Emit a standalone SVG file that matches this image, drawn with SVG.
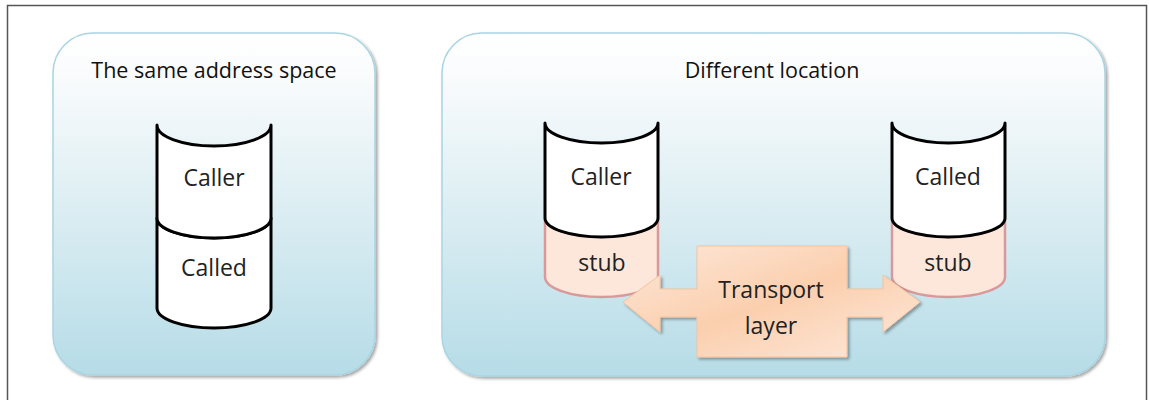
<svg xmlns="http://www.w3.org/2000/svg" width="1149" height="400" viewBox="0 0 1149 400">
  <defs>
    <linearGradient id="panelFill" x1="0" y1="0" x2="0" y2="1">
      <stop offset="0" stop-color="#ffffff"/>
      <stop offset="0.1" stop-color="#fbfcfd"/>
      <stop offset="0.5" stop-color="#ddeef3"/>
      <stop offset="1" stop-color="#b6dce7"/>
    </linearGradient>
    <linearGradient id="arrowFill" x1="0" y1="0" x2="1" y2="1">
      <stop offset="0" stop-color="#fde8da"/>
      <stop offset="0.5" stop-color="#fbcfae"/>
      <stop offset="1" stop-color="#fde9dc"/>
    </linearGradient>
    <filter id="shadow" x="-10%" y="-10%" width="125%" height="125%">
      <feGaussianBlur in="SourceAlpha" stdDeviation="1.5"/>
      <feOffset dx="2" dy="2" result="b"/>
      <feComponentTransfer><feFuncA type="linear" slope="0.35"/></feComponentTransfer>
      <feMerge><feMergeNode/><feMergeNode in="SourceGraphic"/></feMerge>
    </filter>
  </defs>
  <style>
    .panel { fill: url(#panelFill); stroke: #a9d5e2; stroke-width: 1.5; filter: url(#shadow); }
    .drum { fill: #ffffff; stroke: #000000; stroke-width: 3; stroke-linejoin: round; }
    .stub { fill: #fce7da; stroke: #d9999a; stroke-width: 2.5; }
    .label { font-family: "Open Sans", Lato, "Liberation Sans", sans-serif; font-size: 23px; fill: #222222; text-anchor: middle; }
    .title { font-family: "Open Sans", Lato, "Liberation Sans", sans-serif; font-size: 21.5px; fill: #111111; text-anchor: middle; }
    .transport { fill: url(#arrowFill); stroke: #f5c3a0; stroke-width: 1; filter: url(#shadow); }
  </style>

  <!-- outer frame -->
  <rect x="0" y="0" width="1149" height="400" fill="#ffffff"/>
  <path d="M7.5 402 V5.5 H1146.5 V402" fill="none" stroke="#555555" stroke-width="1.5"/>

  <!-- left panel: same address space -->
  <g id="panel-same">
    <rect class="panel" x="53" y="33" width="322" height="342" rx="40" ry="40"/>
    <text class="title" x="214" y="78">The same address space</text>
  </g>

  <!-- right panel: different location -->
  <g id="panel-different">
    <rect class="panel" x="442" y="33" width="663" height="343" rx="40" ry="40"/>
    <text class="title" x="772" y="78">Different location</text>
  </g>

  <!-- stacked drum: caller over called -->
  <g id="same-called">
    <path class="drum" d="M157 218 A57 20 0 0 0 271 218 V308 A57 20 0 0 1 157 308 Z"/>
    <text class="label" x="214" y="276">Called</text>
  </g>
  <g id="same-caller">
    <path class="drum" d="M157 125 A57 21 0 0 0 271 125 V218 A57 20 0 0 1 157 218 Z"/>
    <text class="label" x="214" y="186">Caller</text>
  </g>

  <!-- remote caller with its stub -->
  <g id="remote-caller">
    <path class="stub" d="M545 218 A56.5 19 0 0 0 658 218 V277 A56.5 20 0 0 1 545 277 Z"/>
    <path class="drum" d="M545 123 A56.5 20 0 0 0 658 123 V218 A56.5 19 0 0 1 545 218 Z"/>
    <text class="label" x="601" y="185">Caller</text>
    <text class="label" x="602" y="271">stub</text>
  </g>

  <!-- remote called with its stub -->
  <g id="remote-called">
    <path class="stub" d="M892 218 A56.5 19 0 0 0 1005 218 V277 A56.5 20 0 0 1 892 277 Z"/>
    <path class="drum" d="M892 123 A56.5 20 0 0 0 1005 123 V218 A56.5 19 0 0 1 892 218 Z"/>
    <text class="label" x="948" y="185">Called</text>
    <text class="label" x="948" y="271">stub</text>
  </g>

  <!-- transport layer double arrow -->
  <g id="connectors">
    <g id="transport-layer">
      <path class="transport" d="M623 302 L660 275 V289 H697 V246 H847 V289 H883 V275 L920 302 L883 332 V317 H847 V357 H697 V317 H660 V332 Z"/>
      <text class="label" x="771" y="298">Transport</text>
      <text class="label" x="771" y="334">layer</text>
    </g>
  </g>
</svg>
